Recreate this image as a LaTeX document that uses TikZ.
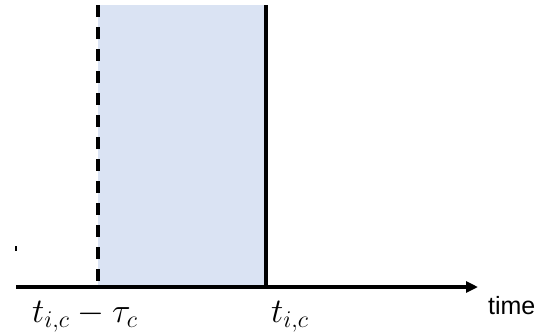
\documentclass[tikz,border=0pt]{standalone}
\usepackage{fontspec}
\setsansfont{Liberation Sans}
\definecolor{windowBlue}{RGB}{218, 227, 243}
\usetikzlibrary{arrows.meta, positioning}

\begin{document}
\begin{tikzpicture}[x=0.5pt, y=-0.5pt, every node/.style={font=\fontsize{17}{20}\selectfont}]
        \useasboundingbox (0,0) rectangle (535,333);

        \coordinate (start) at (16,287);
        \coordinate (tip) at (478,287);
        \coordinate (lowtop) at (98,5);
        \coordinate (hightop) at (266,5);
        \coordinate (low) at (98,287);
        \coordinate (high) at (266,287);

        \fill[windowBlue] (lowtop) rectangle (high);

        \draw[line width=1.7pt, dash pattern=on 6pt off 5pt] (lowtop) -- (low);
        \draw[line width=1.7pt] (hightop) -- (high);
        \draw[line width=1.7pt, -{Triangle[length=6pt, width=5.5pt]}] (start) -- (tip);

        % stray tick left of the window
        \draw[line width=0.6pt] (16,246) -- (16,251);

        \node[anchor=west] (lowlabel) at (25,317) {$t_{i,c}-\tau_c$};
        \node[anchor=west] (highlabel) at (264,317) {$t_{i,c}$};
        \node[anchor=west, font=\sffamily\fontsize{12.5}{14}\selectfont] (timelabel) at (481,306) {time};
      \end{tikzpicture}
\end{document}
